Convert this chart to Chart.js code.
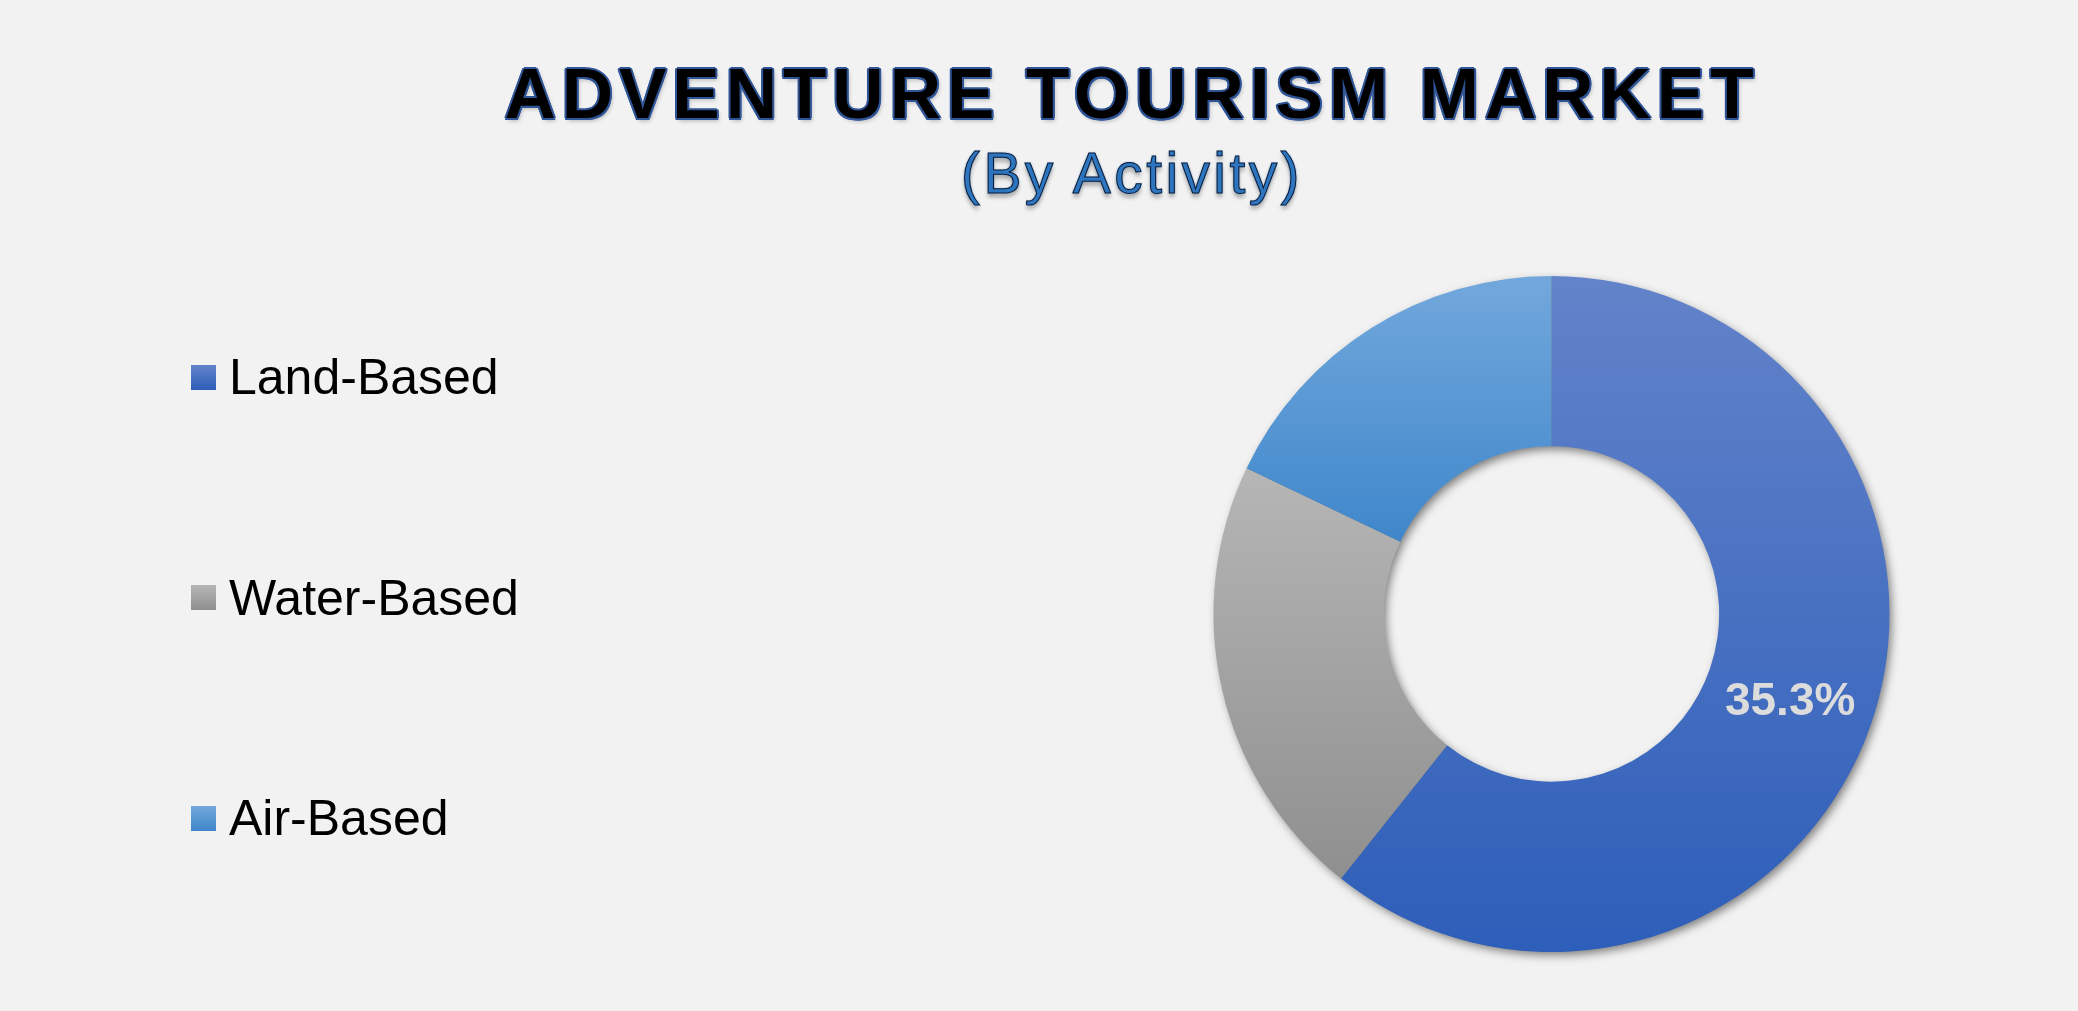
<!DOCTYPE html>
<html>
<head>
<meta charset="utf-8">
<title>Adventure Tourism Market</title>
<script src="https://cdn.jsdelivr.net/npm/chart.js@4.4.1/dist/chart.umd.min.js"></script>
<style>
  html, body { margin: 0; padding: 0; background: #f2f2f2; overflow: hidden; }
  body { width: 2078px; height: 1011px; position: relative; font-family: "Liberation Sans", Arial, sans-serif; }
  #wrap { position: absolute; left: 0; top: 0; width: 2078px; height: 1011px; }
  .title {
    position: absolute; left: 0; width: 2264px; text-align: center; line-height: 1; white-space: nowrap;
  }
  #t1 {
    top: 58px; font-size: 71px; font-weight: 700; letter-spacing: 6px; color: #000;
    text-shadow: -2px 0 0 #2f5597, 2px 0 0 #2f5597, 0 -2px 0 #2f5597, 0 2px 0 #2f5597,
      -1.5px -1.5px 0 #2f5597, 1.5px -1.5px 0 #2f5597, -1.5px 1.5px 0 #2f5597, 1.5px 1.5px 0 #2f5597,
      2px 3px 4px rgba(0,0,0,0.25);
  }
  #t2 {
    top: 145px; font-size: 57px; font-weight: 400; letter-spacing: 3.4px; color: #2e75c0;
    -webkit-text-stroke: 1px #0b1a33;
    text-shadow: 0 0 2px #2e75c0, 0 4px 4px rgba(0,0,0,0.35);
  }
  .leg { position: absolute; left: 191px; display: flex; align-items: center; height: 50px; }
  .leg i { display: block; width: 25px; height: 25px; margin-right: 13px; }
  .leg span { font-size: 50px; line-height: 50px; color: #000; white-space: nowrap; }
</style>
</head>
<body>
<div id="wrap"><canvas id="donut"></canvas></div>
<div class="title" id="t1">ADVENTURE TOURISM MARKET</div>
<div class="title" id="t2">(By Activity)</div>
<div id="legend"></div>
<script>
// data
var activities = ["Land-Based", "Water-Based", "Air-Based"];
var shares = [60.7, 21.4, 17.9];
var shareLabels = ["35.3%", "", ""];

// styles
var topColors = ["#6383ca", "#b6b6b6", "#72a8dc"];
var bottomColors = ["#2d5eb9", "#8f8f8f", "#3f87cb"];
var cutoutFrac = 0.496;

function sliceGradient(c) {
	var chart = c.chart, area = chart.chartArea, i = c.dataIndex;
	if (!area) return topColors[i];
	var cx = (area.left + area.right) / 2, cy = (area.top + area.bottom) / 2;
	var R = Math.min(area.width, area.height) / 2, r = R * cutoutFrac;
	var total = shares.reduce(function(a, b) { return a + b; }, 0);
	var before = shares.slice(0, i).reduce(function(a, b) { return a + b; }, 0);
	var start = before / total * 2 * Math.PI - Math.PI / 2;
	var end = start + shares[i] / total * 2 * Math.PI;
	var y0 = Infinity, y1 = -Infinity;
	for (var k = 0; k <= 90; k++) {
		var a = start + (end - start) * k / 90;
		[R, r].forEach(function(rad) {
			var y = cy + rad * Math.sin(a);
			y0 = Math.min(y0, y); y1 = Math.max(y1, y);
		});
	}
	var g = chart.ctx.createLinearGradient(0, y0, 0, y1);
	g.addColorStop(0, topColors[i]);
	g.addColorStop(1, bottomColors[i]);
	return g;
}

var ringShadow = {
	id: "ringShadow",
	beforeDatasetsDraw: function(chart) {
		var arc = chart.getDatasetMeta(0).data[0];
		if (!arc) return;
		var ctx = chart.ctx;
		ctx.save();
		ctx.shadowColor = "rgba(0,0,0,0.5)";
		ctx.shadowBlur = 10;
		ctx.shadowOffsetX = 3;
		ctx.shadowOffsetY = 4;
		ctx.beginPath();
		ctx.arc(arc.x, arc.y, arc.outerRadius - 1, 0, Math.PI * 2);
		ctx.arc(arc.x, arc.y, arc.innerRadius + 1, Math.PI * 2, 0, true);
		ctx.fillStyle = "#777";
		ctx.fill();
		ctx.restore();
	}
};

var sliceText = {
	id: "sliceText",
	afterDatasetsDraw: function(chart) {
		var ctx = chart.ctx;
		chart.getDatasetMeta(0).data.forEach(function(arc, i) {
			if (!shareLabels[i]) return;
			var p = arc.tooltipPosition();
			ctx.save();
			ctx.font = "bold 46px 'Liberation Sans', Arial, sans-serif";
			ctx.fillStyle = "#dcdcdc";
			ctx.textAlign = "center";
			ctx.textBaseline = "middle";
			ctx.fillText(shareLabels[i], p.x, p.y + 5);
			ctx.restore();
		});
	}
};

window.onload = function() {
	var legend = document.getElementById("legend");
	activities.forEach(function(name, i) {
		var row = document.createElement("div");
		row.className = "leg";
		row.style.top = (352 + i * 220.5) + "px";
		var box = document.createElement("i");
		box.style.background = "linear-gradient(" + topColors[i] + ", " + bottomColors[i] + ")";
		var txt = document.createElement("span");
		txt.textContent = name;
		row.appendChild(box);
		row.appendChild(txt);
		legend.appendChild(row);
	});

	new Chart(document.getElementById("donut"), {
		type: "doughnut",
		data: {
			labels: activities,
			datasets: [{
				data: shares,
				backgroundColor: sliceGradient,
				borderWidth: 0,
				hoverOffset: 0
			}]
		},
		options: {
			responsive: true,
			maintainAspectRatio: false,
			animation: false,
			cutout: (cutoutFrac * 100) + "%",
			layout: { padding: { left: 1213.5, right: 188.5, top: 276, bottom: 59 } },
			plugins: {
				legend: { display: false },
				tooltip: { enabled: false }
			}
		},
		plugins: [ringShadow, sliceText]
	});
};
</script>
</body>
</html>
